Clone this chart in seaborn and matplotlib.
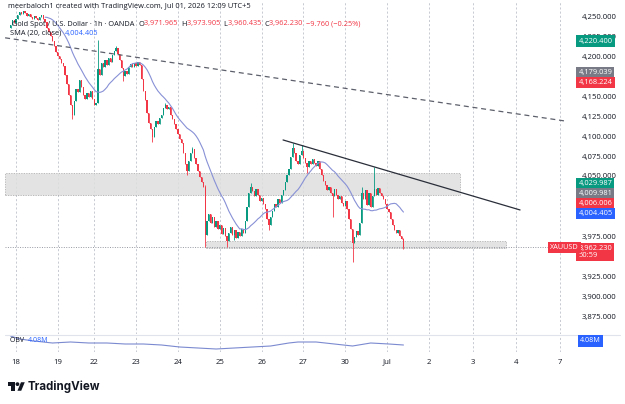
import numpy as np
import pandas as pd
import matplotlib
matplotlib.use("Agg")
import matplotlib.pyplot as plt
from matplotlib.patches import Rectangle, Polygon, Circle
from matplotlib.lines import Line2D
import seaborn as sns

# ---------------- data ----------------
FIRST_INDEX = -3          # bar index of first candle (bar 0 = start of Jun 18)
FIRST_OPEN = 4236.0
CLOSES_PRE = [4240, 4246, 4243]
CLOSES_JUN18 = [4248, 4252, 4256, 4254, 4258, 4255, 4251, 4254, 4250, 4247, 4251, 4249,
                4246, 4250, 4253, 4248, 4244, 4236, 4231, 4226, 4220, 4214, 4206]
CLOSES_JUN19 = [4201, 4197, 4193, 4189, 4178, 4166, 4152, 4140, 4128, 4145, 4160, 4156,
                4171, 4162, 4152, 4148, 4155, 4150, 4158, 4147]
CLOSES_JUN22 = [4140, 4143, 4185, 4178, 4192, 4188, 4196, 4190, 4199, 4194, 4203, 4208,
                4211, 4204, 4196, 4186, 4176, 4183, 4179, 4188, 4191, 4187, 4192]
CLOSES_JUN23 = [4189, 4194, 4190, 4172, 4158, 4146, 4130, 4118, 4110, 4100, 4112, 4120,
                4116, 4124, 4128, 4136, 4140, 4135, 4138, 4128, 4122, 4116, 4110]
CLOSES_JUN24 = [4104, 4098, 4092, 4080, 4066, 4058, 4070, 4080, 4085, 4074, 4066, 4058,
                4050, 4044, 4038, 3978, 3995, 4004, 3992, 4000, 3988, 3995, 3985]
CLOSES_JUN25 = [3990, 3979, 3986, 3976, 3970, 3980, 3988, 3978, 3984, 3974, 3981, 3976,
                3985, 3980, 3995, 4012, 4030, 4038, 4032, 4026, 4035, 4028, 4020]
CLOSES_JUN26 = [4024, 4016, 4010, 3998, 3990, 4000, 4008, 4016, 4012, 4022, 4018, 4028,
                4034, 4044, 4052, 4060, 4075, 4086, 4080, 4070, 4066, 4078, 4083]
CLOSES_JUN27 = [4074, 4068, 4063, 4070, 4066, 4072, 4068, 4064, 4070, 4060, 4052, 4045,
                4040, 4034, 4038, 4030, 4026, 4035, 4028, 4022, 4026, 4018, 4014]
CLOSES_JUN30 = [4020, 4010, 3998, 3985, 3968, 3975, 3982, 3978, 3992, 4030, 4022, 4034,
                4015, 4030, 4012, 4026, 4035, 4028, 4036, 4030, 4026, 4022, 4016]
CLOSES_JUL01 = [4010, 4006, 3998, 3990, 3984, 3980, 3984, 3976, 3971.965, 3962.23]

HIGH_WICKS = {45: 4221, 55: 4214, 82: 4143, 97: 4088, 104: 4040, 129: 4043,
              152: 4093, 157: 4090, 190: 4037, 197: 4063, 213: 3973.905}
LOW_WICKS = {31: 4123, 59: 4170, 75: 4094, 94: 4052, 104: 3963, 116: 3962,
             120: 3971, 139: 3984, 160: 4055, 174: 4000, 185: 3944, 213: 3960.435}

DAY_TICKS = [0, 23, 43, 66, 89, 112, 135, 158, 181, 204, 227, 251, 275, 299]
DAY_LABELS = ["18", "19", "22", "23", "24", "25", "26", "27", "30", "Jul", "2", "3", "4", "7"]
# price-scale labels that are visible (the others sit under the coloured tags)
PRICE_TICKS = [4250, 4225, 4200, 4150, 4125, 4100, 4075, 4050, 3975, 3925, 3900, 3875]

UPPER_ZONE = (-6.0, 244.0, 4027.5, 4054.5)   # x0, x1, low, high
LOWER_ZONE = (104.5, 269.4, 3961.3, 3970.0)
DASHED_TREND = ((-6.0, 4224.0), (301.8, 4120.0))
SOLID_TREND = ((146.8, 4096.3), (277.1, 4008.8))
LAST_PRICE = 3962.23

OBV_IDX = [-3, 2, 10, 20, 30, 40, 50, 60, 70, 80, 90, 100, 110, 120, 130, 140,
           150, 155, 165, 175, 185, 195, 205, 213]
OBV_M = [4.17, 4.14, 4.12, 4.10, 4.11, 4.10, 4.10, 4.09, 4.09, 4.08, 4.06, 4.05,
         4.04, 4.05, 4.06, 4.07, 4.10, 4.11, 4.11, 4.09, 4.07, 4.10, 4.09, 4.08]

# --------------- styling / layout ---------------
sns.set_theme(style="white")
plt.rcParams['font.family'] = ['Open Sans', 'DejaVu Sans']

W, H = 625, 404
PLOT_L, PLOT_R = 5, 573
MAIN_TOP, MAIN_BOT = 2, 334
OBV_TOP, OBV_BOT = 335, 352
X_LIM = (-6.05, 306.2)
Y_LIM = (3853.75, 4268.75)
UP, DOWN = '#089981', '#f23645'
DARK = '#131722'

fig = plt.figure(figsize=(W / 100, H / 100), dpi=100)
fig.patch.set_facecolor('white')

ax = fig.add_axes([PLOT_L / W, 1 - MAIN_BOT / H, (PLOT_R - PLOT_L) / W,
                   (MAIN_BOT - MAIN_TOP) / H])
axo = fig.add_axes([PLOT_L / W, 1 - OBV_BOT / H, (PLOT_R - PLOT_L) / W,
                    (OBV_BOT - OBV_TOP) / H])
for a in (ax, axo):
    a.set_facecolor('white')
    for s in a.spines.values():
        s.set_visible(False)
    a.set_xlim(*X_LIM)
    for t in DAY_TICKS:
        a.axvline(t, color='#bfc2ca', lw=0.6, ls=(0, (2.5, 2.5)), zorder=0)
ax.set_ylim(*Y_LIM)
ax.set_xticks([])
ax.set_yticks([])

# candles
closes = np.array(CLOSES_PRE + CLOSES_JUN18 + CLOSES_JUN19 + CLOSES_JUN22 + CLOSES_JUN23 +
                  CLOSES_JUN24 + CLOSES_JUN25 + CLOSES_JUN26 + CLOSES_JUN27 + CLOSES_JUN30 +
                  CLOSES_JUL01, dtype=float)
opens = np.concatenate([[FIRST_OPEN], closes[:-1]])
idx = np.arange(FIRST_INDEX, FIRST_INDEX + len(closes))
highs = np.maximum(opens, closes)
lows = np.minimum(opens, closes)
for k, v in HIGH_WICKS.items():
    highs[k - FIRST_INDEX] = v
for k, v in LOW_WICKS.items():
    lows[k - FIRST_INDEX] = v
cols = np.where(closes >= opens, UP, DOWN)

# zones
for (x0, x1, lo, hi) in (UPPER_ZONE, LOWER_ZONE):
    ax.add_patch(Rectangle((x0, lo), x1 - x0, hi - lo, fc='#dedede', ec='#a6a6a6',
                           lw=0.6, ls=(0, (1.5, 1.5)), alpha=0.85, zorder=1))

ax.axhline(LAST_PRICE, color='#9598a1', lw=0.7, ls=(0, (1, 1.5)), zorder=2)

ax.vlines(idx, lows, highs, colors=cols, lw=0.6, zorder=3)
ax.bar(idx, np.maximum(np.abs(closes - opens), 0.8), bottom=np.minimum(opens, closes),
       width=0.72, color=cols, lw=0, zorder=4)

sma = pd.Series(closes).rolling(20).mean()
sma_df = pd.DataFrame({'x': idx, 'sma': sma}).dropna()
sns.lineplot(data=sma_df, x='x', y='sma', ax=ax, color='#8891d6', lw=0.8, zorder=5)

(dx0, dy0), (dx1, dy1) = DASHED_TREND
ax.plot([dx0, dx1], [dy0, dy1], color='#5d606b', lw=0.9, ls=(0, (4, 3)), zorder=6)
(sx0, sy0), (sx1, sy1) = SOLID_TREND
ax.plot([sx0, sx1], [sy0, sy1], color='#2a2e39', lw=0.9, zorder=6)
ax.set_xlabel('')
ax.set_ylabel('')
ax.set_xlim(*X_LIM)
ax.set_ylim(*Y_LIM)

# OBV pane
sns.lineplot(x=OBV_IDX, y=OBV_M, ax=axo, color='#7b8ad0', lw=0.8)
axo.set_ylim(4.01, 4.18)
axo.set_yticks([])
axo.set_xticks([])
axo.set_xlabel('')
axo.set_ylabel('')
axo.set_xlim(*X_LIM)

fig.add_artist(Line2D([PLOT_L / W, 620 / W], [1 - 334.5 / H] * 2, color='#e0e3eb', lw=0.8))

# time-axis labels (baseline aligned like the reference)
for t, lab in zip(DAY_TICKS, DAY_LABELS):
    xf = (PLOT_L + (t - X_LIM[0]) / (X_LIM[1] - X_LIM[0]) * (PLOT_R - PLOT_L)) / W
    fig.text(xf, 1 - 363.5 / H, lab, fontsize=5.6, color=DARK, ha='center', va='baseline')


def price_y(p):
    px = MAIN_TOP + (Y_LIM[1] - p) / (Y_LIM[1] - Y_LIM[0]) * (MAIN_BOT - MAIN_TOP)
    return 1 - px / H


for p in PRICE_TICKS:
    fig.text(582 / W, price_y(p), f"{p:,.3f}", fontsize=5.6, color=DARK,
             ha='left', va='center', zorder=2)


def tag(y_px, text, color, x_px=578.5):
    fig.text(x_px / W, 1 - y_px / H, text, fontsize=5.4, color='white', ha='left',
             va='center', zorder=6,
             bbox=dict(boxstyle='square,pad=0.28', fc=color, ec='none'))


tag(41, "4,220.400", UP)
tag(72.5, "4,179.039", '#787b86')
tag(82.5, "4,168.224", DOWN)
tag(184, "4,029.987", UP)
tag(194, "4,009.981", '#787b86')
tag(203.5, "4,006.006", DOWN)
tag(213.5, "4,004.405", '#2962ff')
fig.text(578.5 / W, 1 - 252 / H, "3,962.230\n50:59", fontsize=5.4, color='white',
         ha='left', va='center', linespacing=1.15, zorder=6,
         bbox=dict(boxstyle='square,pad=0.28', fc=DOWN, ec='none'))
fig.text(550 / W, 1 - 247.5 / H, "XAUUSD", fontsize=5.2, color='white', ha='left',
         va='center', zorder=6, bbox=dict(boxstyle='square,pad=0.28', fc=DOWN, ec='none'))
fig.text(580 / W, 1 - 341 / H, "4.08M", fontsize=5.2, color='white', ha='left',
         va='center', zorder=6, bbox=dict(boxstyle='square,pad=0.3', fc='#2962ff', ec='none'))

renderer = fig.canvas.get_renderer()


def rich(x_px, y_px, parts, size):
    x = x_px
    for s, c in parts:
        t = fig.text(x / W, 1 - y_px / H, s, fontsize=size, color=c, ha='left',
                     va='center', zorder=7)
        x += t.get_window_extent(renderer).width


rich(8, 7, [("meerbaloch1 created with TradingView.com, Jul 01, 2026 12:09 UTC+5", DARK)], 5.4)
rich(12, 24, [("Gold Spot / U.S. Dollar · 1h · OANDA  ", DARK),
              ("O", DARK), ("3,971.965  ", DOWN), ("H", DARK), ("3,973.905  ", DOWN),
              ("L", DARK), ("3,960.435  ", DOWN), ("C", DARK), ("3,962.230  ", DOWN),
              ("−9.760 (−0.25%)", DOWN)], 5.3)
rich(10, 33, [("SMA (20, close)  ", DARK), ("4,004.405", '#2962ff')], 5.3)
rich(10, 341, [("OBV  ", DARK), ("4.08M", '#2962ff')], 5.0)

# TradingView logo
lax = fig.add_axes([8 / W, 1 - 391 / H, 17 / W, 9 / H])
lax.set_xlim(0, 36)
lax.set_ylim(22.5, 3.5)
lax.axis('off')
lax.add_patch(Polygon([(0, 4), (14, 4), (14, 22), (7, 22), (7, 11), (0, 11)], fc=DARK, ec='none'))
lax.add_patch(Polygon([(20, 22), (27.5, 4), (35.5, 4), (28, 22)], fc=DARK, ec='none'))
lax.add_patch(Circle((20, 8), 4, fc=DARK, ec='none'))
fig.text(28 / W, 1 - 386.5 / H, "TradingView", fontsize=8.3, fontweight='bold',
         color=DARK, ha='left', va='center', family=['Inter', 'DejaVu Sans'])

fig.savefig("out.png", dpi=100, facecolor='white')
